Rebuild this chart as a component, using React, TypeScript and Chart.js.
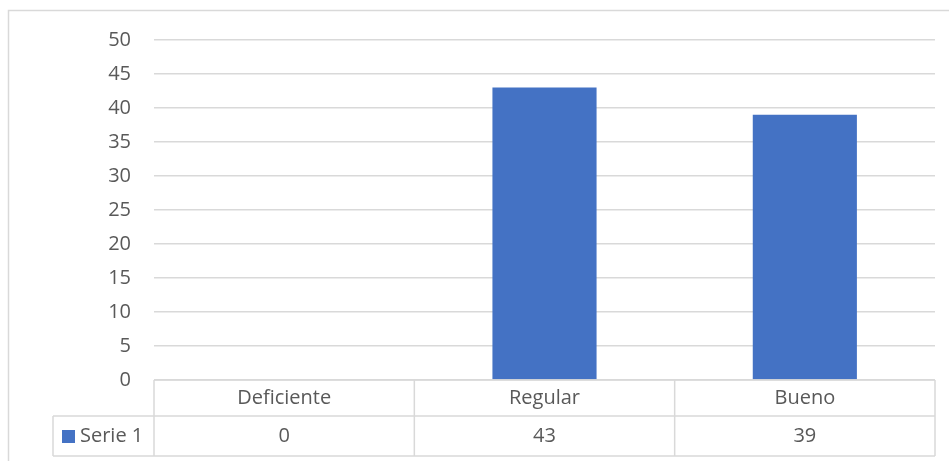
import React, { useEffect, useRef } from "react";
import { Chart, registerables } from "chart.js";

Chart.register(...registerables);

const categories = ["Deficiente", "Regular", "Bueno"];
const seriesName = "Serie 1";
const seriesValues = [0, 43, 39];
const yMin = 0;
const yMax = 50;
const yStep = 5;

const FONT = "'Open Sans', 'Liberation Sans', sans-serif";
const TEXT = "#595959";
const LINE = "#d9d9d9";
const BAR = "#4472C4";

const tablePlugin = {
  id: "dataTable",
  afterDraw(chart: any) {
    const ctx = chart.ctx;
    const area = chart.chartArea;
    const xs = chart.scales.x;
    const n = categories.length;
    const catW = (area.right - area.left) / n;
    const top = area.bottom;
    const mid = top + 36;
    const bot = top + 76;
    const legLeft = 53;
    ctx.save();
    // outer chart border
    ctx.strokeStyle = LINE;
    ctx.lineWidth = 1.5;
    ctx.beginPath();
    ctx.rect(8.5, 10.5, 1000, 1000);
    ctx.stroke();
    // table lines
    ctx.lineWidth = 1.5;
    ctx.beginPath();
    ctx.moveTo(area.left, top);
    ctx.lineTo(area.right, top);
    ctx.moveTo(legLeft, mid);
    ctx.lineTo(area.right, mid);
    ctx.moveTo(legLeft, bot);
    ctx.lineTo(area.right, bot);
    ctx.moveTo(legLeft, mid);
    ctx.lineTo(legLeft, bot);
    for (let i = 0; i <= n; i++) {
      const x = area.left + i * catW;
      ctx.moveTo(x, top);
      ctx.lineTo(x, bot);
    }
    ctx.stroke();
    // texts
    ctx.fillStyle = TEXT;
    ctx.font = `20px ${FONT}`;
    ctx.textAlign = "center";
    ctx.textBaseline = "middle";
    for (let i = 0; i < n; i++) {
      const cx = xs.getPixelForValue(i);
      ctx.fillText(categories[i], cx, (top + mid) / 2);
      ctx.fillText(String(seriesValues[i]), cx, (mid + bot) / 2);
    }
    // legend key
    ctx.fillStyle = BAR;
    ctx.fillRect(62, (mid + bot) / 2 - 6, 13, 13);
    ctx.fillStyle = TEXT;
    ctx.textAlign = "left";
    ctx.fillText(seriesName, 80, (mid + bot) / 2);
    ctx.restore();
  },
};

export default function App() {
  const ref = useRef<HTMLCanvasElement>(null);
  useEffect(() => {
    if (!ref.current) return;
    const chart = new Chart(ref.current, {
      type: "bar",
      data: {
        labels: categories,
        datasets: [
          {
            label: seriesName,
            data: seriesValues,
            backgroundColor: BAR,
            barPercentage: 0.4,
            categoryPercentage: 1,
          },
        ],
      },
      options: {
        responsive: false,
        animation: false,
        layout: { padding: { left: 0, right: 14, top: 40, bottom: 81 } },
        plugins: { legend: { display: false }, tooltip: { enabled: false } },
        scales: {
          x: { display: false },
          y: {
            min: yMin,
            max: yMax,
            ticks: {
              stepSize: yStep,
              padding: 23,
              color: TEXT,
              font: { family: FONT, size: 20 },
            },
            grid: { color: LINE, lineWidth: 1.5, drawTicks: false },
            border: { display: false },
            afterFit: (s: any) => {
              s.width = 154;
            },
          },
        },
      },
      plugins: [tablePlugin],
    });
    return () => chart.destroy();
  }, []);
  return (
    <div style={{ position: "fixed", left: 0, top: 0, width: 949, height: 461, background: "#fff" }}>
      <canvas ref={ref} width={949} height={461} style={{ width: 949, height: 461 }} />
    </div>
  );
}
